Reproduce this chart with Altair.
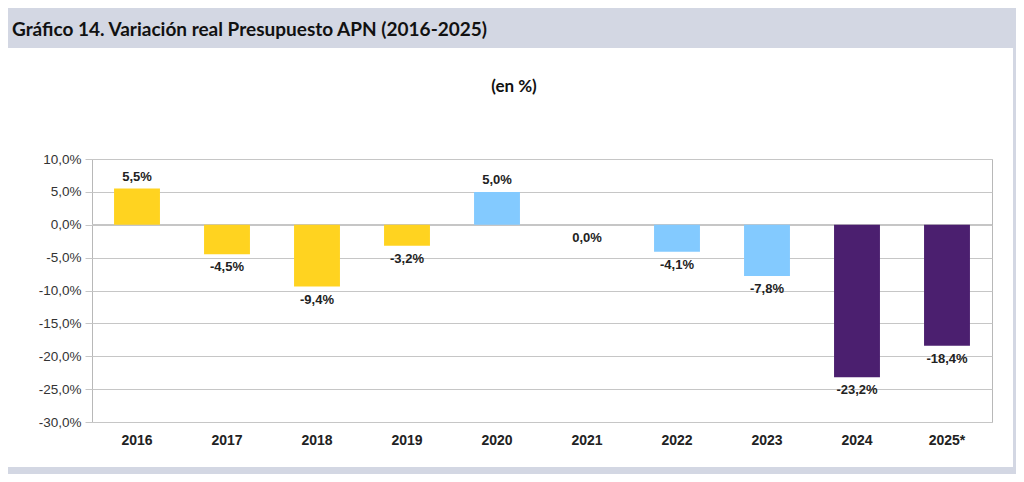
import altair as alt
import pandas as pd

years = ["2016", "2017", "2018", "2019", "2020", "2021", "2022", "2023", "2024", "2025*"]
values = [5.5, -4.5, -9.4, -3.2, 5.0, 0.0, -4.1, -7.8, -23.2, -18.4]
groups = ["g1", "g1", "g1", "g1", "g2", "g2", "g2", "g2", "g3", "g3"]
group_colors = ["#FFD320", "#83CAFF", "#4B1F6F"]
y_ticks = [-30, -25, -20, -15, -10, -5, 0, 5, 10]

title_text = "Gráfico 14. Variación real Presupuesto APN (2016-2025)"
subtitle_text = "(en %)"

df = pd.DataFrame({"year": years, "v": values, "g": groups})
one = pd.DataFrame({"k": [0]})

W, H = 900, 263
PL, PT = 84, 151
TOTW, TOTH = 1008, 466

fmt = "replace(replace(format({f}, '.1f'), '.', ','), '\u2212', '-') + '%'"

xaxis = alt.Axis(labelFont="Liberation Sans", labelFontSize=14, labelFontWeight="bold",
                 labelColor="#222222", labelAngle=0, labelPadding=11,
                 domain=False, ticks=False, grid=False)
xscale = alt.Scale(paddingInner=0.49, paddingOuter=0.245)
yaxis = alt.Axis(values=y_ticks, labelOverlap=False,
                 labelExpr=fmt.format(f="datum.value"),
                 labelFont="Liberation Sans", labelFontSize=13.5, labelColor="#333333",
                 labelPadding=4, tickSize=7, tickColor="#c6c6c6", domain=False,
                 grid=True, gridColor="#c6c6c6", gridWidth=1)
yscale = alt.Scale(domain=[-30, 10], nice=False, zero=False)


def xenc():
    return alt.X("year:N", sort=years, title=None, scale=xscale, axis=xaxis)


def yenc():
    return alt.Y("v:Q", title=None, scale=yscale, axis=yaxis)


gray = "#d3d7e3"

top_bar = alt.Chart(one).mark_rect(color=gray).encode(
    x=alt.value(-PL), x2=alt.value(TOTW - PL), y=alt.value(-PT), y2=alt.value(-111))
right_bar = alt.Chart(one).mark_rect(color=gray).encode(
    x=alt.value(921), x2=alt.value(TOTW - PL), y=alt.value(-PT), y2=alt.value(TOTH - PT))
bottom_bar = alt.Chart(one).mark_rect(color=gray).encode(
    x=alt.value(-PL), x2=alt.value(TOTW - PL), y=alt.value(308), y2=alt.value(TOTH - PT))

title = alt.Chart(one).mark_text(text=title_text, font="Lato", fontSize=19, fontWeight="bold",
                                  color="#111111", align="left", baseline="middle").encode(
    x=alt.value(-80), y=alt.value(-129))
subtitle = alt.Chart(one).mark_text(text=subtitle_text, font="Lato", fontSize=17, fontWeight="bold",
                                     color="#111111", align="center", baseline="middle").encode(
    x=alt.value(422), y=alt.value(-72))

zero = alt.Chart(df).mark_rule(color="#c6c6c6", strokeWidth=1).encode(
    y=alt.Y("z:Q", title=None, scale=yscale, axis=yaxis)).transform_calculate(z="0")

bars = alt.Chart(df).mark_bar().encode(
    x=xenc(),
    y=yenc(),
    y2=alt.datum(0),
    color=alt.Color("g:N", scale=alt.Scale(domain=["g1", "g2", "g3"], range=group_colors), legend=None),
)

lab_expr = fmt.format(f="datum.v")
pos_labels = alt.Chart(df).transform_filter("datum.v > 0").transform_calculate(lab=lab_expr).mark_text(
    font="Liberation Sans", fontSize=13, fontWeight="bold", color="#222222",
    baseline="bottom", dy=-5).encode(x=xenc(), y=yenc(), text="lab:N")
neg_labels = alt.Chart(df).transform_filter("datum.v <= 0").transform_calculate(lab=lab_expr).mark_text(
    font="Liberation Sans", fontSize=13, fontWeight="bold", color="#222222",
    baseline="top", dy=7).encode(x=xenc(), y=yenc(), text="lab:N")

chart = alt.layer(top_bar, right_bar, bottom_bar, title, subtitle, zero, bars, pos_labels, neg_labels).properties(
    width=W, height=H,
    autosize=alt.AutoSizeParams(type="none"),
    padding={"left": PL, "top": PT, "right": TOTW - PL - W, "bottom": TOTH - PT - H},
    background="white",
).configure_view(stroke="#b8b8b8", strokeWidth=1)

chart.save("out.html", embed_options={"renderer": "svg", "actions": False})
